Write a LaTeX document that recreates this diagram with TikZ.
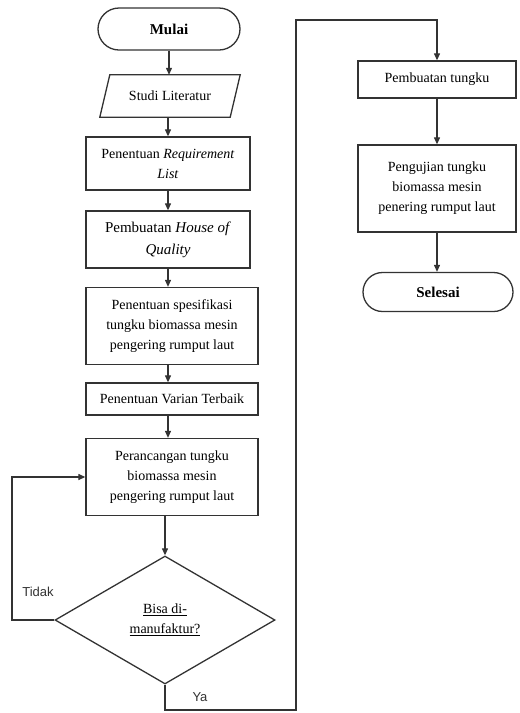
\documentclass[tikz,border=0pt]{standalone}
\usepackage{fontspec}
\setmainfont{Liberation Serif}
\newfontfamily\lsans{Liberation Sans}
\usetikzlibrary{shapes.geometric,shapes.misc,arrows.meta}
\begin{document}
\begin{tikzpicture}[x=1pt,y=-1pt,
  lc/.style={draw=black!80, line width=1.3pt},
  boxx/.style={lc, rectangle, align=center, inner sep=0pt, font=\fontsize{14}{20}\selectfont},
  term/.style={lc, rounded rectangle, align=center, inner sep=0pt, font=\fontsize{15}{20}\selectfont\bfseries},
  arr/.style={draw=black!80, line width=1.2pt, -{Triangle[length=7pt,width=6pt]}},
  lbl/.style={font=\lsans\fontsize{13}{16}\selectfont, text=black!80}
]
\useasboundingbox (0,0) rectangle (520,713);

\node[term, minimum width=142pt, minimum height=42pt] (mulai) at (169,29) {Mulai};
\node[align=center, inner sep=0pt, minimum width=140pt, minimum height=42pt, font=\fontsize{14}{20}\selectfont] (studi) at (170,96) {Studi Literatur};
\draw[lc] ([xshift=10pt]studi.north west) -- (studi.north east) -- ([xshift=-10pt]studi.south east) -- (studi.south west) -- cycle;
\node[boxx, minimum width=164pt, minimum height=53pt] (req) at (168,163.5) {Penentuan \textit{Requirement}\\\textit{List}};
\node[boxx, minimum width=164pt, minimum height=57pt, font=\fontsize{15}{22}\selectfont] (hoq) at (168,239.5) {Pembuatan \textit{House of}\\\textit{Quality}};
\node[boxx, minimum width=172pt, minimum height=77pt] (spec) at (172,326) {Penentuan spesifikasi\\tungku biomassa mesin\\pengering rumput laut};
\node[boxx, minimum width=172pt, minimum height=32pt] (var) at (172,399) {Penentuan Varian Terbaik};
\node[boxx, minimum width=172pt, minimum height=77pt] (per) at (172,477) {Perancangan tungku\\biomassa mesin\\pengering rumput laut};
\node[lc, diamond, aspect=1.72, minimum width=220pt, minimum height=128pt, inner sep=0pt, align=center, font=\fontsize{14}{20}\selectfont] (dec) at (165,620) {\underline{Bisa di-}\\\underline{manufaktur?}};

\node[boxx, minimum width=158pt, minimum height=37pt] (pt) at (437,79.5) {Pembuatan tungku};
\node[boxx, minimum width=158pt, minimum height=87pt] (uji) at (437,188.5) {Pengujian tungku\\biomassa mesin\\penering rumput laut};
\node[term, minimum width=150pt, minimum height=39pt] (sel) at (438,292) {Selesai};

\coordinate (loopL) at (12,620);
\coordinate (yaBR) at (296,710);
\coordinate (yaTop) at (296,20);

\draw[arr] (mulai.south) -- (mulai.south |- studi.north);
\draw[arr] (req.north |- studi.south) -- (req.north);
\draw[arr] (req.south) -- (req.south |- hoq.north);
\draw[arr] (hoq.south) -- (hoq.south |- spec.north);
\draw[arr] (hoq.south |- spec.south) -- (hoq.south |- var.north);
\draw[arr] (hoq.south |- var.south) -- (hoq.south |- per.north);
\draw[arr] (dec.north |- per.south) -- (dec.north);
\draw[arr] (dec.west) -- (loopL) |- (per.west);
\draw[arr] (dec.south) |- (yaBR) -- (yaTop) -| (pt.north);
\draw[arr] (pt.south) -- (pt.south |- uji.north);
\draw[arr] (uji.south) -- (uji.south |- sel.north);

\node[lbl] (tidak) at (38,592) {Tidak};
\node[lbl] (ya) at (200,697) {Ya};
\end{tikzpicture}
\end{document}
